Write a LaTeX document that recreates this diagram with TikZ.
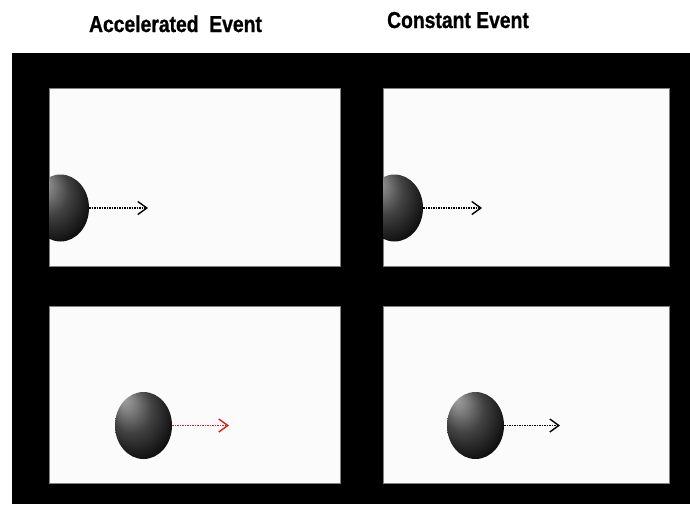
\documentclass[tikz,border=0pt]{standalone}
\usepackage{fontspec}
\setmainfont{Liberation Sans}
\newfontfamily\headfont[FakeBold=1]{Liberation Sans Bold}
\usetikzlibrary{arrows.meta,shapes.geometric}

% dark sphere with a soft highlight towards the upper left
\pgfdeclareradialshading{sphere}{\pgfpoint{-17bp}{20bp}}{%
  color(0bp)=(black!38); color(6bp)=(black!48); color(18bp)=(black!74);
  color(32bp)=(black!93); color(42bp)=(black); color(50bp)=(black)}

\tikzset{
  panel/.style={draw=black!50, line width=0.6pt, fill=black!1.5,
    minimum width=291pt, minimum height=178pt, inner sep=0pt},
  ball/.style={ellipse, minimum width=57pt, minimum height=67pt,
    inner sep=0pt, shading=sphere},
  motion/.style={line width=1.5pt, dash pattern=on 1.3pt off 1.2pt,
    -{Straight Barb[length=9pt,width=13pt,line width=1.4pt]}},
  title/.style={font=\headfont\fontsize{23}{26}\selectfont, anchor=base,
    inner sep=0pt}
}

\begin{document}
\begin{tikzpicture}[x=1pt,y=-1pt]
  \useasboundingbox (0,0) rectangle (690,504);
  \fill[white] (0,0) rectangle (690,504);

  % column headings
  \node[title] (hacc) at (175.5,32) {\scalebox{0.84}[1]{Accelerated\ \ Event}};
  \node[title] (hcon) at (458,28) {\scalebox{0.84}[1]{Constant Event}};

  % black frame
  \fill[black] (12,53) rectangle (690,504);

  % four panels
  \node[panel] (ptl) at (194.5,177) {};
  \node[panel, minimum width=286pt] (ptr) at (526,177) {};
  \node[panel, minimum height=177pt] (pbl) at (194.5,394.5) {};
  \node[panel, minimum width=286pt, minimum height=177pt] (pbr) at (526,394.5) {};

  % balls entering at the left edge of the upper panels
  \begin{scope}
    \clip (49,88) rectangle (340,266);
    \node[ball] (btl) at (60.5,208) {};
  \end{scope}
  \begin{scope}
    \clip (383,88) rectangle (669,266);
    \node[ball] (btr) at (394.5,208) {};
  \end{scope}

  % balls further along in the lower panels
  \node[ball] (bbl) at (143.5,425.5) {};
  \node[ball] (bbr) at (475.5,425.5) {};

  % motion arrows
  \coordinate (etl) at (148,208);
  \coordinate (etr) at (482,208);
  \coordinate (ebl) at (229,425.5);
  \coordinate (ebr) at (560,425.5);
  \draw[motion] (btl.east) -- (etl);
  \draw[motion] (btr.east) -- (etr);
  \draw[motion, color={rgb,255:red,212;green,32;blue,32}] (bbl.east) -- (ebl);
  \draw[motion] (bbr.east) -- (ebr);
\end{tikzpicture}
\end{document}
